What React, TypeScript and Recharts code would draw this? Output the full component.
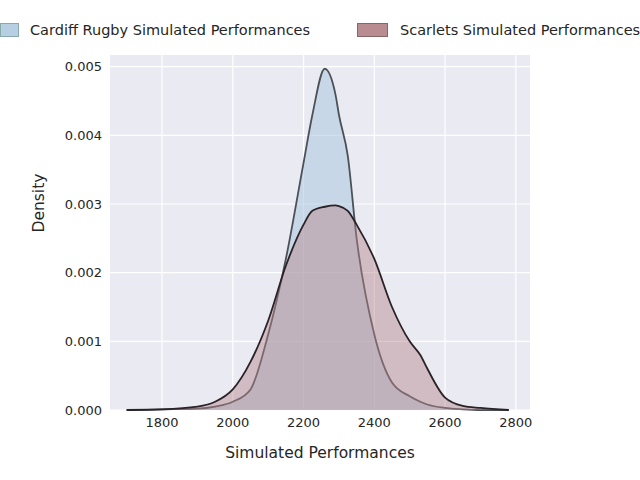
import React from "react";
import { ComposedChart, Area, XAxis, YAxis, CartesianGrid } from "recharts";

const xs = [1700, 1800, 1900, 1950, 2000, 2050, 2100, 2150, 2200, 2225, 2260, 2290, 2300, 2325, 2350, 2400, 2450, 2500, 2530, 2550, 2600, 2650, 2700, 2780];
const cardiff = [0, 0.00001, 0.00002, 0.00005, 0.00012, 0.0003, 0.0011, 0.0022, 0.0036, 0.0043, 0.00497, 0.0046, 0.0043, 0.0037, 0.0025, 0.0011, 0.0004, 0.0002, 0.00012, 0.00008, 0.00003, 0.00001, 0, 0];
const scarlets = [0, 0.00001, 0.00005, 0.00012, 0.0003, 0.0007, 0.0013, 0.0021, 0.0027, 0.0029, 0.00296, 0.00298, 0.00297, 0.0029, 0.0027, 0.0022, 0.0015, 0.001, 0.0008, 0.0006, 0.00018, 0.00006, 0.00003, 0];
const xTicks = [1800, 2000, 2200, 2400, 2600, 2800];
const yTicks = [0, 0.001, 0.002, 0.003, 0.004, 0.005];

const data = xs.map((x, i) => ({ x, cardiff: cardiff[i], scarlets: scarlets[i] }));
const font = "DejaVu Sans";

export default function App() {
  return (
    <div style={{ position: "absolute", left: 0, top: 0, width: 640, height: 480, overflow: "hidden", background: "#fff", fontFamily: font }}>
      <div style={{ position: "absolute", top: 22, left: 0, display: "flex", alignItems: "center", fontSize: 14.5, color: "#262626", whiteSpace: "nowrap" }}>
        <span style={{ width: 17, height: 12, background: "#b7cfe2", border: "1px solid #8aa", display: "inline-block" }} />
        <span style={{ marginLeft: 11, width: 296, display: "inline-block" }}>Cardiff Rugby Simulated Performances</span>
        <span style={{ marginLeft: 31, width: 29, height: 12, background: "#b88c90", border: "1px solid #866", display: "inline-block" }} />
        <span style={{ marginLeft: 12 }}>Scarlets Simulated Performances</span>
      </div>
      <ComposedChart width={640} height={480} data={data} margin={{ top: 55, right: 110, bottom: 40, left: 0 }}>
        <CartesianGrid fill="#eaeaf2" stroke="#fff" strokeWidth={1.2} horizontalValues={yTicks} verticalValues={xTicks} />
        <XAxis type="number" dataKey="x" domain={[1653, 2840]} ticks={xTicks} axisLine={false} tickLine={false}
          tick={{ fill: "#262626", fontSize: 13, fontFamily: font }}
          label={{ value: "Simulated Performances", position: "insideBottom", offset: -18, fill: "#262626", fontSize: 15.5, fontFamily: font }} />
        <YAxis type="number" domain={[0, 0.00517]} ticks={yTicks} width={110} axisLine={false} tickLine={false}
          tickFormatter={(v: number) => v.toFixed(3)}
          tick={{ fill: "#262626", fontSize: 13, fontFamily: font }}
          label={{ value: "Density", angle: -90, position: "insideLeft", offset: 38, fill: "#262626", fontSize: 15.5, fontFamily: font }} />
        <Area type="monotone" dataKey="cardiff" stroke="#4b5157" strokeWidth={1.8} fill="#a9c6de" fillOpacity={0.55} isAnimationActive={false} />
        <Area type="monotone" dataKey="scarlets" stroke="#2a2226" strokeWidth={1.8} fill="#b5858a" fillOpacity={0.45} isAnimationActive={false} />
      </ComposedChart>
    </div>
  );
}
